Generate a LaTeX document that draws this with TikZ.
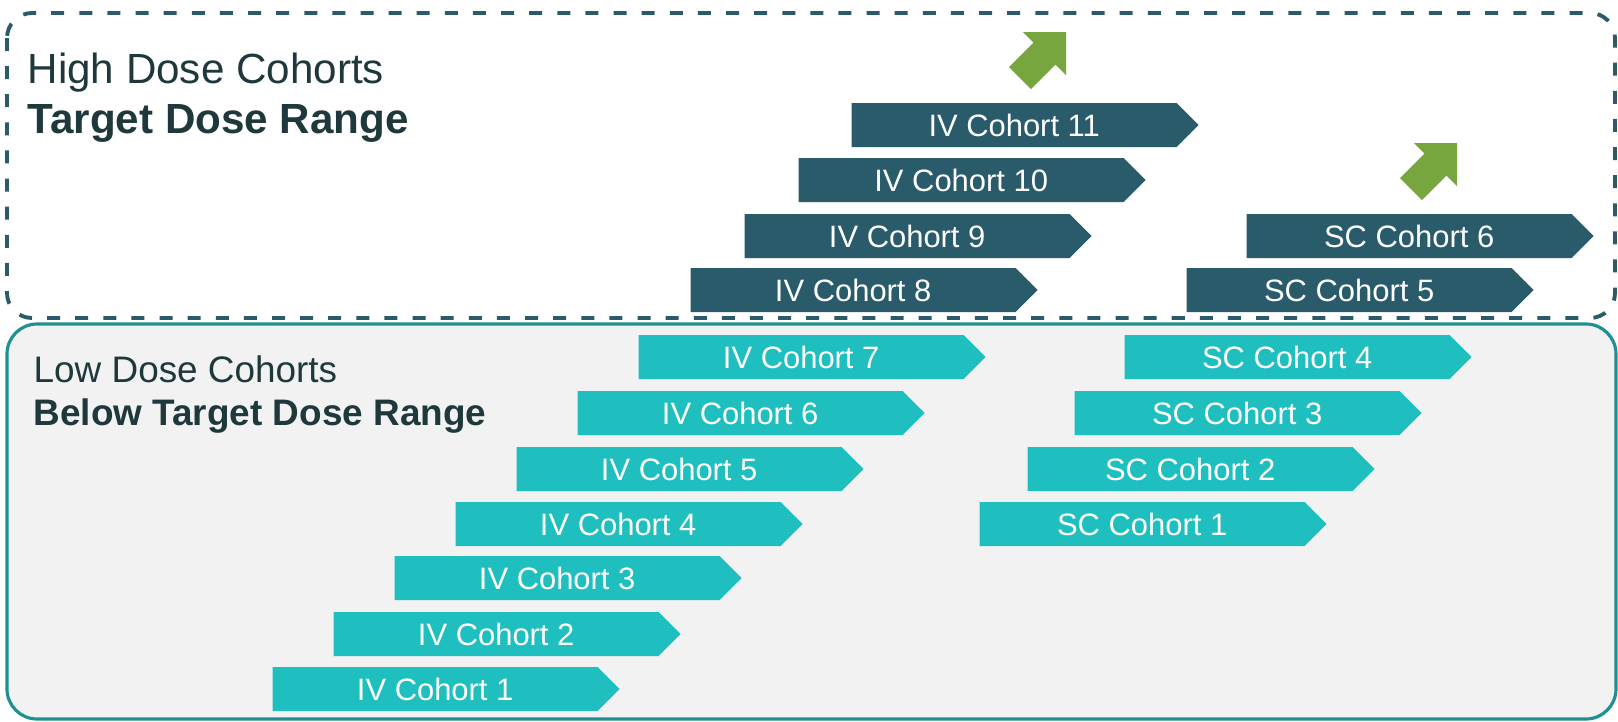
\documentclass[tikz,border=0pt]{standalone}
\usepackage{fontspec}
\setmainfont{Liberation Sans}
\usetikzlibrary{shapes.symbols}

\definecolor{darkbar}{HTML}{295B6B}
\definecolor{cyanbar}{HTML}{1FBFBF}
\definecolor{upgreen}{HTML}{77A63F}
\definecolor{titletext}{HTML}{1E383C}
\definecolor{lowfill}{HTML}{F2F2F2}
\definecolor{lowedge}{HTML}{1E9090}
\definecolor{dashedge}{HTML}{2B5B6B}

\begin{document}
\begin{tikzpicture}[
  bar/.style={signal, signal to=east, signal pointer angle=90,
              minimum width=3.47cm, minimum height=0.44cm, inner sep=0pt,
              text=white, font=\fontsize{8.8}{10}\selectfont, anchor=west},
  lowbar/.style={bar, fill=cyanbar},
  highbar/.style={bar, fill=darkbar},
  hititle/.style={anchor=north west, inner sep=0pt, align=left, text=titletext,
                  font=\fontsize{12}{14.2}\selectfont},
  lotitle/.style={anchor=north west, inner sep=0pt, align=left, text=titletext,
                  font=\fontsize{10.5}{12.3}\selectfont},
  uparr/.pic={\fill[upgreen] (0,0) -- (0,-0.43) -- (-0.105,-0.325) -- (-0.35,-0.57)
              -- (-0.57,-0.35) -- (-0.325,-0.105) -- (-0.43,0) -- cycle;},
]
\useasboundingbox (0,0) rectangle (16.18,-7.21);

% Target dose range frame
\draw[dashedge, line width=1.1pt, dash pattern=on 3.7pt off 4.3pt,
      rounded corners=0.25cm] (0.07,-0.13) rectangle (16.15,-3.18);
% Below target dose range panel
\draw[lowedge, fill=lowfill, line width=0.9pt, rounded corners=0.3cm]
  (0.07,-3.24) rectangle (16.16,-7.19);

% Titles
\node[hititle] (hi) at (0.27,-0.52) {High Dose Cohorts\\\textbf{Target Dose Range}};
\node[lotitle] (lo) at (0.33,-3.55) {Low Dose Cohorts\\\textbf{Below Target Dose Range}};

% IV cohorts
\foreach \n/\x/\y in {1/2.72/6.89, 2/3.33/6.34, 3/3.94/5.78, 4/4.55/5.24,
                      5/5.16/4.69, 6/5.77/4.13, 7/6.38/3.57}
  \node[lowbar] (iv\n) at (\x,-\y) {IV Cohort \n};
\foreach \n/\x/\y in {8/6.90/2.90, 9/7.44/2.36, 10/7.98/1.80, 11/8.51/1.25}
  \node[highbar] (iv\n) at (\x,-\y) {IV Cohort \n};

% SC cohorts
\foreach \n/\x/\y in {1/9.79/5.24, 2/10.27/4.69, 3/10.74/4.13, 4/11.24/3.57}
  \node[lowbar] (sc\n) at (\x,-\y) {SC Cohort \n};
\foreach \n/\x/\y in {5/11.86/2.90, 6/12.46/2.36}
  \node[highbar] (sc\n) at (\x,-\y) {SC Cohort \n};

% Escalation arrows
\pic at (10.66,-0.32) {uparr};
\pic at (14.57,-1.43) {uparr};

\end{tikzpicture}
\end{document}
